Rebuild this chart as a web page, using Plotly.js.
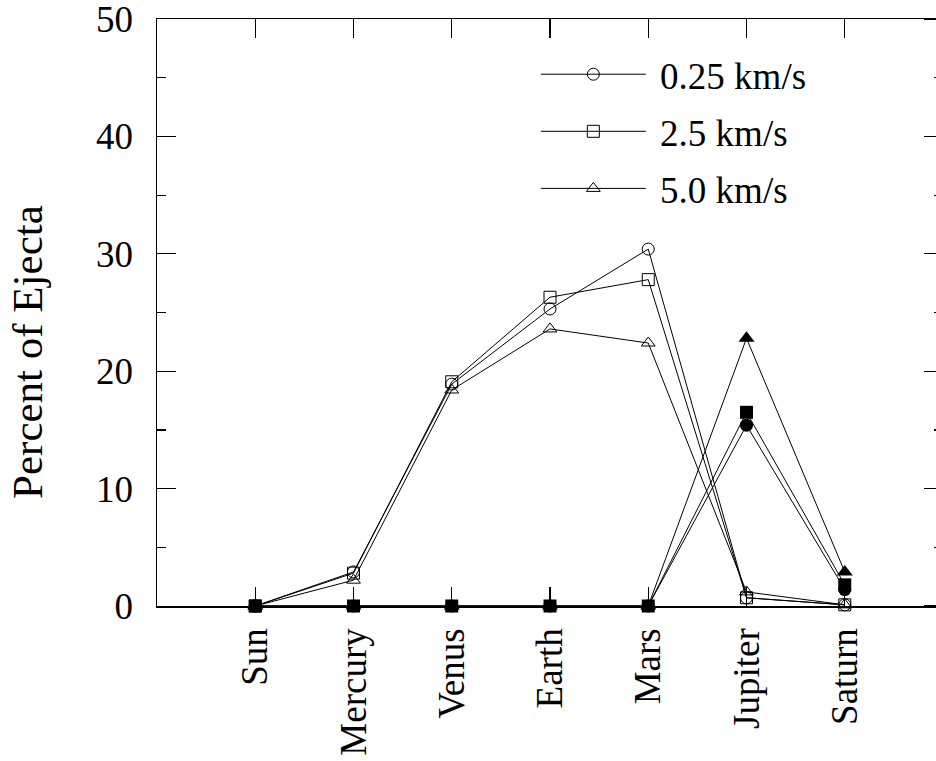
<!DOCTYPE html>
<html>
<head>
<meta charset="utf-8">
<script src="https://cdn.plot.ly/plotly-3.0.1.min.js"></script>
<style>
html, body { margin:0; padding:0; overflow:hidden; background:#fff; }
#chart { width:944px; height:761px; }
</style>
</head>
<body>
<div id="chart"></div>
<script>
// Categories (x positions are their indices)
const planets = ['Sun', 'Mercury', 'Venus', 'Earth', 'Mars', 'Jupiter', 'Saturn'];
const planetIndex = [0, 1, 2, 3, 4, 5, 6];

// Series names
const seriesNames = ['0.25 km/s', '2.5 km/s', '5.0 km/s'];

// Open-marker series (percent of ejecta)
const open025 = [0, 2.9, 18.9, 25.3, 30.4, 0.7, 0.1];
const open25  = [0, 2.8, 19.1, 26.3, 27.8, 0.7, 0.1];
const open50  = [0, 2.2, 18.4, 23.6, 22.4, 1.2, 0.1];

// Filled-marker series (percent of ejecta)
const filled025 = [0, 0, 0, 0, 0, 15.4, 1.4];
const filled25  = [0, 0, 0, 0, 0, 16.5, 1.8];
const filled50  = [0, 0, 0, 0, 0, 22.8, 2.9];

// Axis ticks
const yTickVals = [0, 10, 20, 30, 40, 50];
const yTickText = ['0', '10', '20', '30', '40', '50'];
const yTitle = 'Percent of Ejecta';

const FONT = '"Liberation Serif", "Times New Roman", serif';
const line = {color: '#000', width: 1};

function openTrace(y, name, symbol, size, group) {
  return {
    x: planetIndex, y: y, name: '\u00A0' + name, legendgroup: group,
    type: 'scatter', mode: 'lines+markers',
    line: line,
    marker: {symbol: symbol, size: size, color: '#000', line: {color: '#000', width: 1}},
    cliponaxis: false, showlegend: true
  };
}
function filledTrace(y, name, symbol, size, group) {
  return {
    x: planetIndex, y: y, name: name, legendgroup: group,
    type: 'scatter', mode: 'lines+markers',
    line: line,
    marker: {symbol: symbol, size: size, color: '#000', line: {color: '#000', width: 0}},
    cliponaxis: false, showlegend: false
  };
}

const data = [
  openTrace(open025, seriesNames[0], 'circle-open', 12, 'a'),
  openTrace(open25, seriesNames[1], 'square-open', 12, 'b'),
  openTrace(open50, seriesNames[2], 'triangle-up-open', 12, 'c'),
  filledTrace(filled50, seriesNames[2], 'triangle-up', 14, 'c'),
  filledTrace(filled025, seriesNames[0], 'circle', 13, 'a'),
  filledTrace(filled25, seriesNames[1], 'square', 13, 'b')
];

const xRange = [-1, 7];
const yRange = [0, 50];

const tickBase = {ticklen: 19, tickwidth: 1.2, tickcolor: '#000',
                  showgrid: false, zeroline: false, layer: 'above traces'};
const minorIn  = {dtick: 5, ticks: 'inside', ticklen: 9, tickwidth: 1.2, tickcolor: '#000', showgrid: false};
const minorOut = {dtick: 5, ticks: 'outside', ticklen: 9, tickwidth: 1.2, tickcolor: '#000', showgrid: false};

const layout = {
  width: 944, height: 761,
  margin: {l: 157, r: 1, t: 19, b: 155, pad: 0},
  paper_bgcolor: '#fff', plot_bgcolor: '#fff',
  font: {family: FONT, size: 37, color: '#000'},
  showlegend: true,
  legend: {
    x: 0.482, xanchor: 'left', y: 0.958, yanchor: 'top',
    bgcolor: 'rgba(0,0,0,0)', borderwidth: 0,
    font: {family: FONT, size: 37, color: '#000'},
    itemwidth: 105, tracegroupgap: 6, traceorder: 'grouped'
  },
  annotations: [{
    text: yTitle, textangle: -90, showarrow: false,
    xref: 'paper', yref: 'paper', x: -0.164, y: 0.433,
    xanchor: 'center', yanchor: 'middle',
    font: {family: FONT, size: 43, color: '#000'}
  }],
  // bottom axis: labels + line
  xaxis: Object.assign({}, tickBase, {
    range: xRange, ticks: '',
    tickmode: 'array', tickvals: planetIndex, ticktext: planets,
    tickangle: -90,
    showline: true, linecolor: '#000', linewidth: 1.5, mirror: false,
    tickfont: {family: FONT, size: 37, color: '#000'},
    ticklabelstandoff: 6
  }),
  // top frame with downward ticks
  xaxis2: Object.assign({}, tickBase, {
    range: xRange, overlaying: 'x', side: 'top', anchor: 'y', ticks: 'inside',
    tickmode: 'array', tickvals: planetIndex, showticklabels: false,
    showline: true, linecolor: '#000', linewidth: 1.5
  }),
  // upward ticks along the bottom edge
  xaxis3: Object.assign({}, tickBase, {
    range: xRange, overlaying: 'x', side: 'top', anchor: 'free', position: 0, ticks: 'outside',
    tickmode: 'array', tickvals: planetIndex, showticklabels: false,
    showline: false
  }),
  yaxis: Object.assign({}, tickBase, {
    range: yRange, ticks: 'inside',
    tickmode: 'array', tickvals: yTickVals, ticktext: yTickText,
    minor: minorIn,
    showline: true, linecolor: '#000', linewidth: 1.5, mirror: false,
    tickfont: {family: FONT, size: 37, color: '#000'},
    ticklabelstandoff: 15,
    ticklabeloverflow: 'allow'
  }),
  // right frame with leftward ticks
  yaxis2: Object.assign({}, tickBase, {
    range: yRange, overlaying: 'y', side: 'left', anchor: 'free', position: 1, ticks: 'outside',
    tickmode: 'array', tickvals: yTickVals, showticklabels: false,
    minor: minorOut,
    showline: true, linecolor: '#000', linewidth: 1.5
  })
};

// invisible traces so the overlay axes are drawn (same data as the first series)
data.push({x: planetIndex, y: open025, xaxis: 'x2', yaxis: 'y2', type: 'scatter',
           mode: 'markers', marker: {opacity: 0}, showlegend: false, hoverinfo: 'skip'});
data.push({x: planetIndex, y: open025, xaxis: 'x3', yaxis: 'y2', type: 'scatter',
           mode: 'markers', marker: {opacity: 0}, showlegend: false, hoverinfo: 'skip'});

Plotly.newPlot('chart', data, layout, {displayModeBar: false, staticPlot: true});
</script>
</body>
</html>
